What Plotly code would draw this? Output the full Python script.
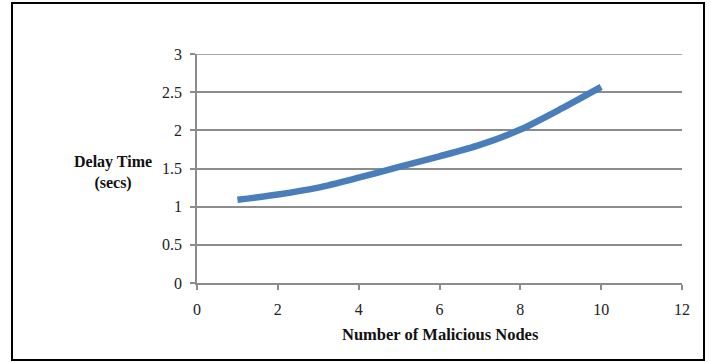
import plotly.graph_objects as go

nodes = [1, 2, 3, 4, 5, 6, 7, 8, 9, 10]
delay = [1.09, 1.16, 1.25, 1.38, 1.52, 1.66, 1.81, 2.01, 2.28, 2.57]
x_ticks = [0, 2, 4, 6, 8, 10, 12]
y_ticks = [0, 0.5, 1, 1.5, 2, 2.5, 3]
y_tick_text = ["0", "0.5", "1", "1.5", "2", "2.5", "3"]

W, H = 711, 362
L, R, T, B = 197, 29, 54, 79
pw, ph = W - L - R, H - T - B

fig = go.Figure()
fig.add_trace(go.Scatter(
    x=nodes, y=delay, mode="lines",
    line=dict(color="#4a7ebb", width=6.5, shape="spline", smoothing=0.7),
    hoverinfo="skip", showlegend=False,
))

font = "Liberation Serif, DejaVu Serif, serif"
grid_c = "#8c8c8c"
fig.update_layout(
    width=W, height=H,
    margin=dict(l=L, r=R, t=T, b=B),
    paper_bgcolor="white", plot_bgcolor="white",
    font=dict(family=font, size=16, color="#222"),
    xaxis=dict(
        range=[0, 12], tickvals=x_ticks, showgrid=False, zeroline=False,
        showline=True, linecolor=grid_c, linewidth=1.5,
        ticks="outside", ticklen=5, tickcolor=grid_c, tickwidth=1.5,
        ticklabelstandoff=6,
        tickfont=dict(size=16, family=font, color="#222"),
    ),
    yaxis=dict(
        range=[0, y_ticks[-1]], tickvals=y_ticks, ticktext=y_tick_text,
        showgrid=True, gridcolor=grid_c, gridwidth=1.5, zeroline=False,
        showline=True, linecolor=grid_c, linewidth=1.5,
        ticks="outside", ticklen=5, tickcolor=grid_c, tickwidth=1.5,
        ticklabelstandoff=5,
        tickfont=dict(size=16, family=font, color="#222"),
    ),
    annotations=[
        dict(text="<b>Delay Time<br>(secs)</b>", xref="paper", yref="paper",
             x=(113 - L) / pw, y=(H - B - 172) / ph,
             xanchor="center", yanchor="middle", showarrow=False,
             font=dict(size=16, family=font, color="#111"), align="center"),
        dict(text="<b>Number of Malicious Nodes</b>", xref="paper", yref="paper",
             x=(440 - L) / pw, y=-(334 - (H - B)) / ph,
             xanchor="center", yanchor="middle", showarrow=False,
             font=dict(size=16.5, family=font, color="#111")),
    ],
    shapes=[
        dict(type="line", xref="paper", yref="y", x0=0, x1=1,
             y0=y_ticks[-1], y1=y_ticks[-1],
             line=dict(color=grid_c, width=1.5)),
        dict(type="rect", xref="paper", yref="paper",
             x0=(12 - L) / pw, x1=(704 - L) / pw,
             y0=(H - B - 360) / ph, y1=(H - B - 3) / ph,
             line=dict(color="black", width=2), fillcolor="rgba(0,0,0,0)"),
    ],
)

fig.write_html("out.html")
